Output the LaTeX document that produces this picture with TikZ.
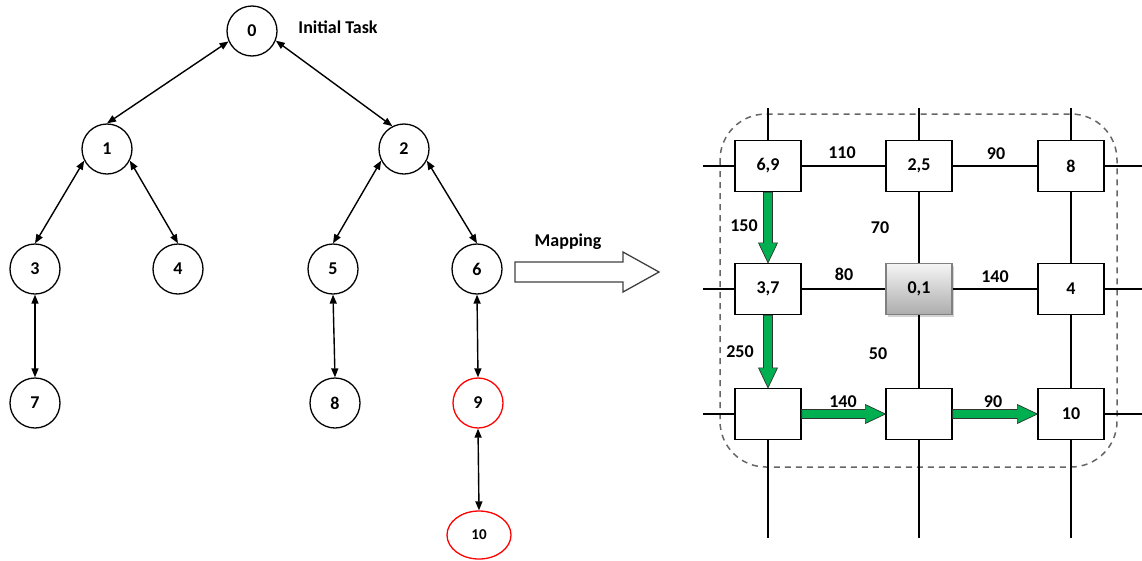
\documentclass[tikz,border=0pt]{standalone}
\usepackage{fontspec}
\setmainfont{Carlito}
\usetikzlibrary{arrows.meta, calc, shapes.geometric, shadows, positioning}
\definecolor{flowgreen}{RGB}{0,176,80}
\tikzset{
    task/.style={circle, draw, line width=1.3pt, minimum size=50pt, inner sep=0pt, font=\bfseries\fontsize{18}{21}\selectfont},
    redtask/.style={task, draw=red},
    link/.style={{Triangle[length=9pt,width=7pt]}-{Triangle[length=9pt,width=7pt]}, line width=1.4pt},
    tile/.style={draw, line width=1.3pt, fill=white, minimum width=66pt, minimum height=51pt, inner sep=0pt, font=\bfseries\fontsize{18}{21}\selectfont},
    hub/.style={tile, draw=gray, top color=gray!8, bottom color=gray!65, drop shadow={shadow xshift=2pt, shadow yshift=-2pt, opacity=0.35}},
    wire/.style={line width=1.1pt},
    weight/.style={font=\bfseries\fontsize{18}{21}\selectfont},
    flow/.style={fill=flowgreen, draw=black!80, line width=0.7pt},
}
\newcommand{\flowarrow}[2]{%
    \filldraw[flow] ($(#1)!4.5pt!90:(#2)$) -- ($(#2)!20pt!(#1)!4.5pt!90:(#2)$)
        -- ($(#2)!20pt!(#1)!9.5pt!90:(#2)$) -- (#2)
        -- ($(#2)!20pt!(#1)!9.5pt!-90:(#2)$) -- ($(#2)!20pt!(#1)!4.5pt!-90:(#2)$)
        -- ($(#1)!4.5pt!-90:(#2)$) -- cycle;
}

\begin{document}
\begin{tikzpicture}[x=1pt, y=-1pt]
\useasboundingbox (0,0) rectangle (1142,560);
\node[task] (t0) at (252,31) {0};
\node[task] (t1) at (107,149) {1};
\node[task] (t2) at (404,149) {2};
\node[task] (t3) at (35,269) {3};
\node[task] (t4) at (178,269) {4};
\node[task] (t5) at (333,269) {5};
\node[task] (t6) at (477,269) {6};
\node[task] (t7) at (35,403) {7};
\node[task] (t8) at (335,403) {8};
\node[redtask] (t9) at (478,403) {9};
\node[redtask, ellipse, minimum width=64pt, minimum height=48pt, font=\bfseries\fontsize{15}{17}\selectfont] (t10) at (479,535) {10};
\node[weight] (init) at (338,27) {Initial Task};
\draw[link] (t0.204) -- (t1.north);
\draw[link] (t0.-22) -- (t2.117);
\foreach \p/\c in {t1/t3, t2/t5} \draw[link] (\p.207) -- (\c.north);
\foreach \p/\c in {t1/t4, t2/t6} \draw[link] (\p.-27) -- (\c.north);
\foreach \p/\c in {t3/t7, t5/t8, t6/t9, t9/t10} \draw[link] (\p.south) -- (\c.north);

\draw[line width=1.3pt, draw=black!75] (515,262) -- (623,262) -- (623,252) -- (659,272) -- (623,292) -- (623,282) -- (515,282) -- cycle;
\node[weight] (maplabel) at (568,242) {Mapping};

\draw[black!60, line width=1.5pt, dash pattern=on 6pt off 5pt, rounded corners=46pt] (720,114) rectangle (1117,467);
\node[tile] (p11) at (768,166) {6,9};
\node[tile] (p12) at (919,166) {2,5};
\node[tile] (p13) at (1071,166) {8};
\node[tile] (p21) at (768,289) {3,7};
\node[hub] (p22) at (919,289) {0,1};
\node[tile] (p23) at (1071,289) {4};
\node[tile] (p31) at (768,414) {};
\node[tile] (p32) at (919,414) {};
\node[tile] (p33) at (1071,414) {10};
\foreach \r/\y in {1/166, 2/289, 3/414} {
    \coordinate (west\r) at (703,\y);
    \coordinate (east\r) at (1142,\y);
    \draw[wire] (west\r) -- (p\r1.west);
    \draw[wire] (p\r3.east) -- (east\r);
}
\foreach \c/\x in {1/768, 2/919, 3/1071} {
    \coordinate (north\c) at (\x,108);
    \coordinate (south\c) at (\x,538);
    \draw[wire] (north\c) -- (p1\c.north);
    \draw[wire] (p3\c.south) -- (south\c);
}
\foreach \a/\b in {p11/p12, p12/p13, p21/p22, p22/p23, p12/p22, p13/p23, p22/p32, p23/p33}
    \draw[wire] (\a) -- (\b);
\flowarrow{p11.south}{p21.north}
\flowarrow{p21.south}{p31.north}
\flowarrow{p31.east}{p32.west}
\flowarrow{p32.east}{p33.west}
\foreach \x/\y/\w [count=\i] in {842/153/110, 996/154/90, 744/226/150, 880/228/70, 844/274/80, 995/277/140, 740/352/250, 878/354/50, 843/402/140, 993/402/90}
    \node[weight] (cost\i) at (\x,\y) {\w};
\end{tikzpicture}
\end{document}
